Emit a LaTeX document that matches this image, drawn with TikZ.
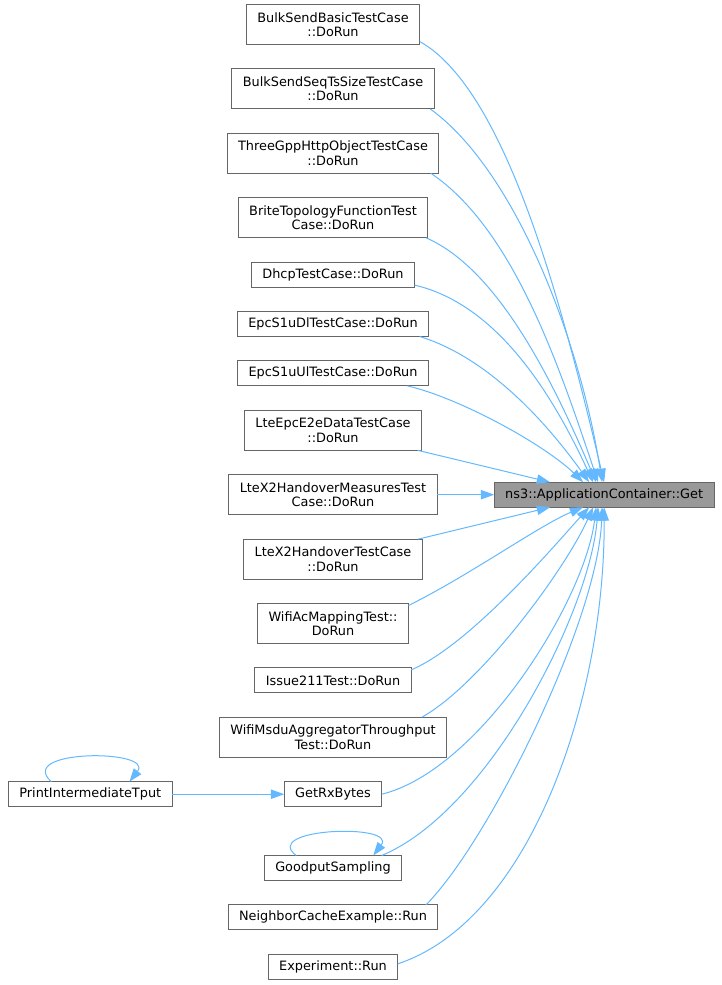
\documentclass[tikz,border=0pt]{standalone}
\usepackage{fontspec}
\setmainfont{DejaVu Sans}
\usetikzlibrary{arrows.meta,positioning,calc}

\definecolor{callblue}{HTML}{63B8FF}
\definecolor{boxgrey}{HTML}{666666}
\definecolor{getfill}{HTML}{999999}

\begin{document}
\begin{tikzpicture}[x=0.75pt, y=-0.75pt, >={Triangle[length=10pt,width=7pt]}, node distance=18.3pt,
    fn/.style={draw=boxgrey, line width=0.75pt, fill=white, inner xsep=8.25pt, inner ysep=0pt, outer sep=0pt,
               minimum height=18.75pt, align=center, font=\fontsize{9.65}{10.75}\selectfont},
    fntwo/.style={fn, minimum height=30pt},
    getbox/.style={fn, fill=getfill},
    call/.style={->, draw=callblue, line width=0.75pt}]
    \useasboundingbox (0,0) rectangle (721,985);

    % Nodes {callers, ApplicationContainer::Get}
    \node [fntwo]  (b1)  at (333,24.5)       {BulkSendBasicTestCase\\::DoRun};
    \node [fntwo]  (b2)  [below=of b1]       {BulkSendSeqTsSizeTestCase\\::DoRun};
    \node [fntwo]  (b3)  [below=of b2]       {ThreeGppHttpObjectTestCase\\::DoRun};
    \node [fntwo]  (b4)  [below=of b3]       {BriteTopologyFunctionTest\\Case::DoRun};
    \node [fn]     (b5)  [below=of b4]       {DhcpTestCase::DoRun};
    \node [fn]     (b6)  [below=of b5]       {EpcS1uDlTestCase::DoRun};
    \node [fn]     (b7)  [below=of b6]       {EpcS1uUlTestCase::DoRun};
    \node [fntwo]  (b8)  [below=of b7]       {LteEpcE2eDataTestCase\\::DoRun};
    \node [fntwo]  (b9)  [below=of b8]       {LteX2HandoverMeasuresTest\\Case::DoRun};
    \node [fntwo]  (b10) [below=of b9]       {LteX2HandoverTestCase\\::DoRun};
    \node [fntwo]  (b11) [below=of b10]      {WifiAcMappingTest::\\DoRun};
    \node [fn]     (b12) [below=of b11]      {Issue211Test::DoRun};
    \node [fntwo]  (b13) [below=of b12]      {WifiMsduAggregatorThroughput\\Test::DoRun};
    \node [fn]     (rx)  [below=of b13]      {GetRxBytes};
    \node [fn]     (print) [left=84pt of rx] {PrintIntermediateTput};
    \node [fn]     (gp)  [below=36.6pt of rx] {GoodputSampling};
    \node [fn]     (nc)  [below=of gp]       {NeighborCacheExample::Run};
    \node [fn]     (ex)  [below=of nc]       {Experiment::Run};
    \node [getbox] (get) [right=42.75pt of b9] {ns3::ApplicationContainer::Get};

    % Paths
    \draw [call] ($(b1.south east)+(0,-3)$)  .. controls (509,91) and (566,322)  .. (get.north);
    \draw [call] ($(b2.south east)+(-4,0)$)  .. controls (515,170) and (580,340) .. ($(get.north)+(-2,0)$);
    \draw [call] ($(b3.south east)+(-8,0)$)  .. controls (515,230) and (561,372) .. ($(get.north)+(-6,0)$);
    \draw [call] ($(b4.south east)+(-2,0)$)  .. controls (501,270) and (557,391) .. ($(get.north)+(-8,0)$);
    \draw [call] ($(b5.south east)+(0,-2)$)  .. controls (500,305) and (555,400) .. ($(get.north)+(-11,0)$);
    \draw [call] ($(b6.south east)+(-9,0)$)  .. controls (490,358) and (549,426) .. ($(get.north)+(-15,0)$);
    \draw [call] ($(b7.south east)+(-21,0)$) .. controls (460,398) and (545,445) .. ($(get.north)+(-21,0)$);
    \draw [call] ($(b8.south east)+(-4,0)$)  -- ($(get.north)+(-54,0)$);
    \draw [call] (b9) -- (get);
    \draw [call] ($(b10.north east)+(-4,0)$) -- ($(get.south)+(-54,0)$);
    \draw [call] ($(b11.north east)+(0,2)$)  .. controls (470,575) and (540,525) .. ($(get.south)+(-21,0)$);
    \draw [call] ($(b12.north east)+(0,2)$)  .. controls (470,645) and (555,545) .. ($(get.south)+(-15,0)$);
    \draw [call] ($(b13.north east)+(-25,0)$) .. controls (480,685) and (565,570) .. ($(get.south)+(-11,0)$);
    \draw [call] (rx.east)                   .. controls (480,770) and (585,600) .. ($(get.south)+(-8,0)$);
    \draw [call] ($(gp.north east)+(-20,0)$) .. controls (490,810) and (590,610) .. ($(get.south)+(-6,0)$);
    \draw [call] ($(nc.north east)+(-12,0)$) .. controls (490,840) and (598,620) .. ($(get.south)+(-2,0)$);
    \draw [call] ($(ex.east)+(0,-3)$)        .. controls (530,920) and (605,700) .. (get.south);

    \draw [call] (print) -- (rx);
    \draw [call] ($(print.north west)+(43,0)$) .. controls (15,749) and (155,749) .. ($(print.north west)+(121,0)$);
    \draw [call] ($(gp.north west)+(32,0)$) .. controls (260,828) and (398,823) .. ($(gp.north west)+(109,0)$);

\end{tikzpicture}
\end{document}
